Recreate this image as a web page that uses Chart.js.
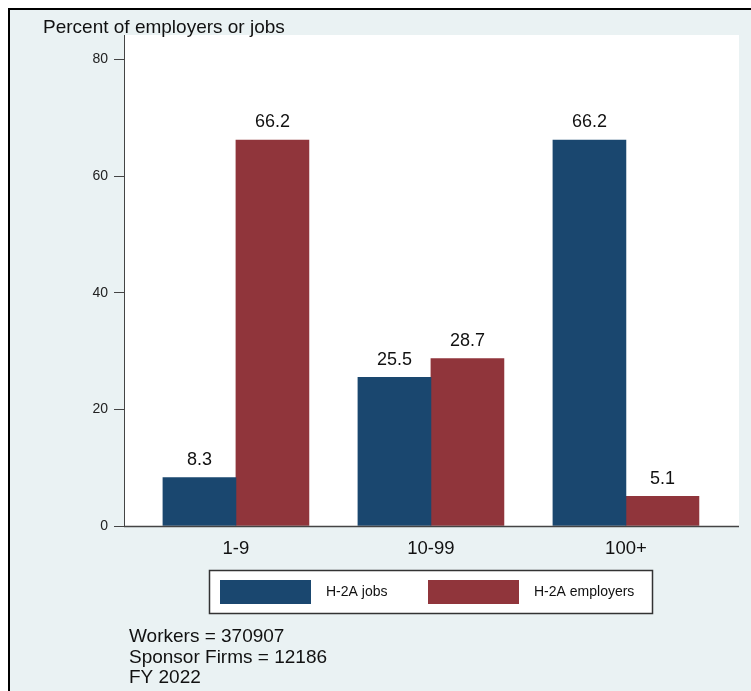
<!DOCTYPE html>
<html>
<head>
<meta charset="utf-8">
<script src="https://cdn.jsdelivr.net/npm/chart.js@4.4.1/dist/chart.umd.min.js"></script>
<style>
html,body{margin:0;padding:0;background:#fff;}
#wrap{width:751px;height:691px;position:relative;}
canvas{display:block;}
</style>
</head>
<body>
<div id="wrap"><canvas id="c" width="751" height="691"></canvas></div>
<script>
const categories = ['1-9', '10-99', '100+'];
const seriesNames = ['H-2A jobs', 'H-2A employers'];
const jobsValues = [8.3, 25.5, 66.2];
const employerValues = [66.2, 28.7, 5.1];
const yTickValues = [0, 20, 40, 60, 80];
const yAxisTitle = 'Percent of employers or jobs';
const noteLines = ['Workers = 370907', 'Sponsor Firms = 12186', 'FY 2022'];

const NAVY = '#1a476f';
const MAROON = '#90353b';
const BG = '#eaf2f3';
const FONT = '"Liberation Sans", Arial, sans-serif';

const toPoints = arr => arr.map((v, i) => ({x: i, y: v}));

const framePlugin = {
  id: 'frame',
  beforeDraw(chart) {
    const ctx = chart.ctx;
    const a = chart.chartArea;
    ctx.save();
    ctx.fillStyle = '#ffffff';
    ctx.fillRect(0, 0, chart.width, chart.height);
    ctx.fillStyle = BG;
    ctx.fillRect(10, 10, chart.width - 10, chart.height - 10);
    ctx.fillStyle = '#000';
    ctx.fillRect(8, 8, chart.width - 8, 2);
    ctx.fillRect(8, 8, 2, chart.height - 8);
    ctx.fillStyle = '#ffffff';
    ctx.fillRect(a.left, a.top, a.right - a.left, a.bottom - a.top);
    ctx.restore();
  },
  afterDatasetsDraw(chart) {
    const ctx = chart.ctx;
    ctx.save();
    ctx.font = '18px ' + FONT;
    ctx.fillStyle = '#111';
    ctx.textAlign = 'center';
    ctx.textBaseline = 'middle';
    chart.data.datasets.forEach((ds, di) => {
      const meta = chart.getDatasetMeta(di);
      meta.data.forEach((el, i) => {
        ctx.fillText(ds.data[i].y.toFixed(1), el.x, el.y - 17.5);
      });
    });
    ctx.restore();
  },
  afterDraw(chart) {
    const ctx = chart.ctx;
    const a = chart.chartArea;
    ctx.save();
    // x baseline
    ctx.strokeStyle = '#444';
    ctx.lineWidth = 1.5;
    ctx.beginPath();
    ctx.moveTo(a.left, a.bottom + 0.5);
    ctx.lineTo(a.right, a.bottom + 0.5);
    ctx.stroke();
    // y title
    ctx.font = '19px ' + FONT;
    ctx.fillStyle = '#111';
    ctx.textAlign = 'left';
    ctx.textBaseline = 'middle';
    ctx.fillText(yAxisTitle, 43, 28);
    // legend
    ctx.fillStyle = '#fff';
    ctx.fillRect(209, 570, 444, 44);
    ctx.strokeStyle = '#333';
    ctx.lineWidth = 1.5;
    ctx.strokeRect(209.5, 570.5, 443, 43);
    const items = [
      {x: 220, color: NAVY, text: seriesNames[0]},
      {x: 428, color: MAROON, text: seriesNames[1]}
    ];
    ctx.font = '14px ' + FONT;
    items.forEach(it => {
      ctx.fillStyle = it.color;
      ctx.fillRect(it.x, 580, 91, 24);
      ctx.fillStyle = '#111';
      ctx.fillText(it.text, it.x + 106, 592);
    });
    // notes
    ctx.font = '19px ' + FONT;
    noteLines.forEach((t, i) => {
      ctx.fillText(t, 129, 637 + i * 20.5);
    });
    ctx.restore();
  }
};

new Chart(document.getElementById('c'), {
  type: 'bar',
  data: {
    datasets: [
      {label: seriesNames[0], data: toPoints(jobsValues), backgroundColor: NAVY, borderWidth: 0},
      {label: seriesNames[1], data: toPoints(employerValues), backgroundColor: MAROON, borderWidth: 0}
    ]
  },
  options: {
    responsive: false,
    animation: false,
    devicePixelRatio: 1,
    layout: {padding: {left: 0, top: 35, right: 12, bottom: 125}},
    datasets: {bar: {barThickness: 73, grouped: true}},
    plugins: {legend: {display: false}, tooltip: {enabled: false}, title: {display: false}},
    scales: {
      x: {
        type: 'linear',
        offset: false,
        min: -0.574,
        max: 2.5798,
        afterBuildTicks: s => { s.ticks = categories.map((c, i) => ({value: i})); },
        afterFit: s => { s.height = 40; },
        ticks: {
          callback: v => categories[v],
          font: {size: 18.5, family: FONT},
          color: '#111',
          padding: 12,
          maxRotation: 0,
          autoSkip: false
        },
        grid: {display: false, drawTicks: false, offset: false},
        border: {display: false}
      },
      y: {
        min: 0,
        max: 84.2,
        afterBuildTicks: s => { s.ticks = yTickValues.map(v => ({value: v})); },
        afterFit: s => { s.width = 124; },
        ticks: {
          font: {size: 14, family: FONT},
          color: '#222',
          padding: 6
        },
        grid: {display: true, drawOnChartArea: false, drawTicks: true, tickLength: 10, color: '#444', lineWidth: 1},
        border: {display: true, color: '#444', width: 1}
      }
    }
  },
  plugins: [framePlugin]
});
</script>
</body>
</html>
